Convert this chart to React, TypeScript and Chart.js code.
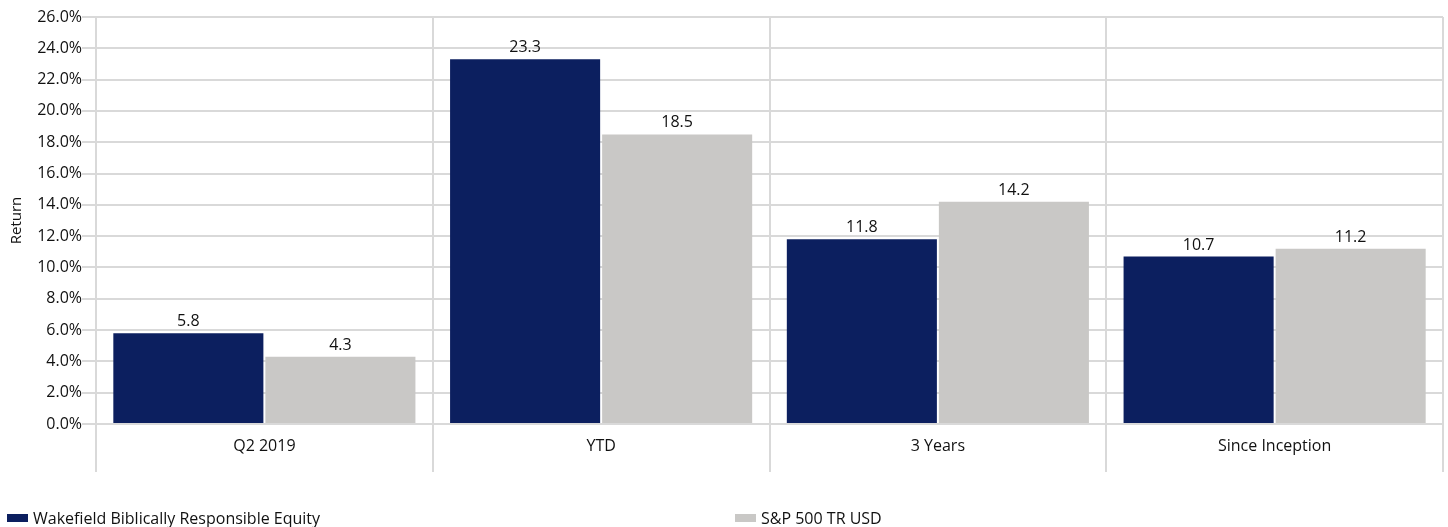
import React, { useEffect, useRef } from "react";
import { Chart, registerables } from "chart.js";

Chart.register(...registerables);

const categories = ["Q2 2019", "YTD", "3 Years", "Since Inception"];
const fundName = "Wakefield Biblically Responsible Equity";
const benchName = "S&P 500 TR USD";
const fundValues = [5.8, 23.3, 11.8, 10.7];
const benchValues = [4.3, 18.5, 14.2, 11.2];
const yMin = 0;
const yMax = 26;
const yStep = 2;
const yTitle = "Return";

const NAVY = "#0c1f5f";
const GRAY = "#c9c8c6";
const GRID = "#d9d9d9";
const TEXT = "#111";
const FONT = "'Open Sans', sans-serif";

const valueLabels = {
  id: "valueLabels",
  afterDatasetsDraw(chart: any) {
    const ctx = chart.ctx;
    ctx.save();
    ctx.font = `16px ${FONT}`;
    ctx.fillStyle = TEXT;
    ctx.textAlign = "center";
    ctx.textBaseline = "alphabetic";
    chart.data.datasets.forEach((ds: any, i: number) => {
      const meta = chart.getDatasetMeta(i);
      meta.data.forEach((bar: any, j: number) => {
        ctx.fillText(Number(ds.data[j]).toFixed(1), bar.x, bar.y - 7);
      });
    });
    ctx.restore();
  },
};

export default function App() {
  const ref = useRef<HTMLCanvasElement | null>(null);
  useEffect(() => {
    document.body.style.margin = "0";
    const chart = new Chart(ref.current!, {
      type: "bar",
      data: {
        labels: categories,
        datasets: [
          { label: fundName, data: fundValues, backgroundColor: NAVY, borderWidth: 0 },
          { label: benchName, data: benchValues, backgroundColor: GRAY, borderWidth: 0 },
        ],
      },
      options: {
        animation: false,
        responsive: false,
        devicePixelRatio: 1,
        layout: { padding: { top: 17, right: 5, bottom: 55, left: 0 } },
        datasets: { bar: { categoryPercentage: 0.903, barPercentage: 0.987 } },
        plugins: { legend: { display: false }, tooltip: { enabled: false } },
        scales: {
          x: {
            grid: { color: GRID, lineWidth: 2, offset: true, tickLength: 48, drawTicks: true },
            border: { color: GRID, width: 2 },
            ticks: { color: TEXT, font: { family: FONT, size: 16 }, padding: -35 },
            afterFit: (s: any) => { s.height = 48; },
          },
          y: {
            min: yMin,
            max: yMax,
            ticks: {
              stepSize: yStep,
              color: TEXT,
              font: { family: FONT, size: 16 },
              padding: 0,
              callback: (v: any) => Number(v).toFixed(1) + "%",
            },
            grid: { color: GRID, lineWidth: 2, tickLength: 14 },
            border: { color: GRID, width: 2 },
            title: { display: true, text: yTitle, color: TEXT, font: { family: FONT, size: 15 }, padding: { top: 8, bottom: 0 } },
            afterFit: (s: any) => { s.width = 96; },
          },
        },
      },
      plugins: [valueLabels],
    });
    return () => chart.destroy();
  }, []);

  const legendText: React.CSSProperties = {
    position: "absolute",
    top: 508,
    fontFamily: FONT,
    fontSize: 16,
    color: TEXT,
    lineHeight: "20px",
    whiteSpace: "nowrap",
  };
  return (
    <div style={{ position: "absolute", left: 0, top: 0, width: 1448, height: 527 }}>
      <canvas ref={ref} width={1448} height={527} style={{ width: 1448, height: 527 }} />
      <div style={{ position: "absolute", left: 7, top: 514, width: 21, height: 8, background: NAVY }} />
      <div style={{ ...legendText, left: 33 }}>{fundName}</div>
      <div style={{ position: "absolute", left: 735, top: 514, width: 21, height: 8, background: GRAY }} />
      <div style={{ ...legendText, left: 761 }}>{benchName}</div>
    </div>
  );
}
